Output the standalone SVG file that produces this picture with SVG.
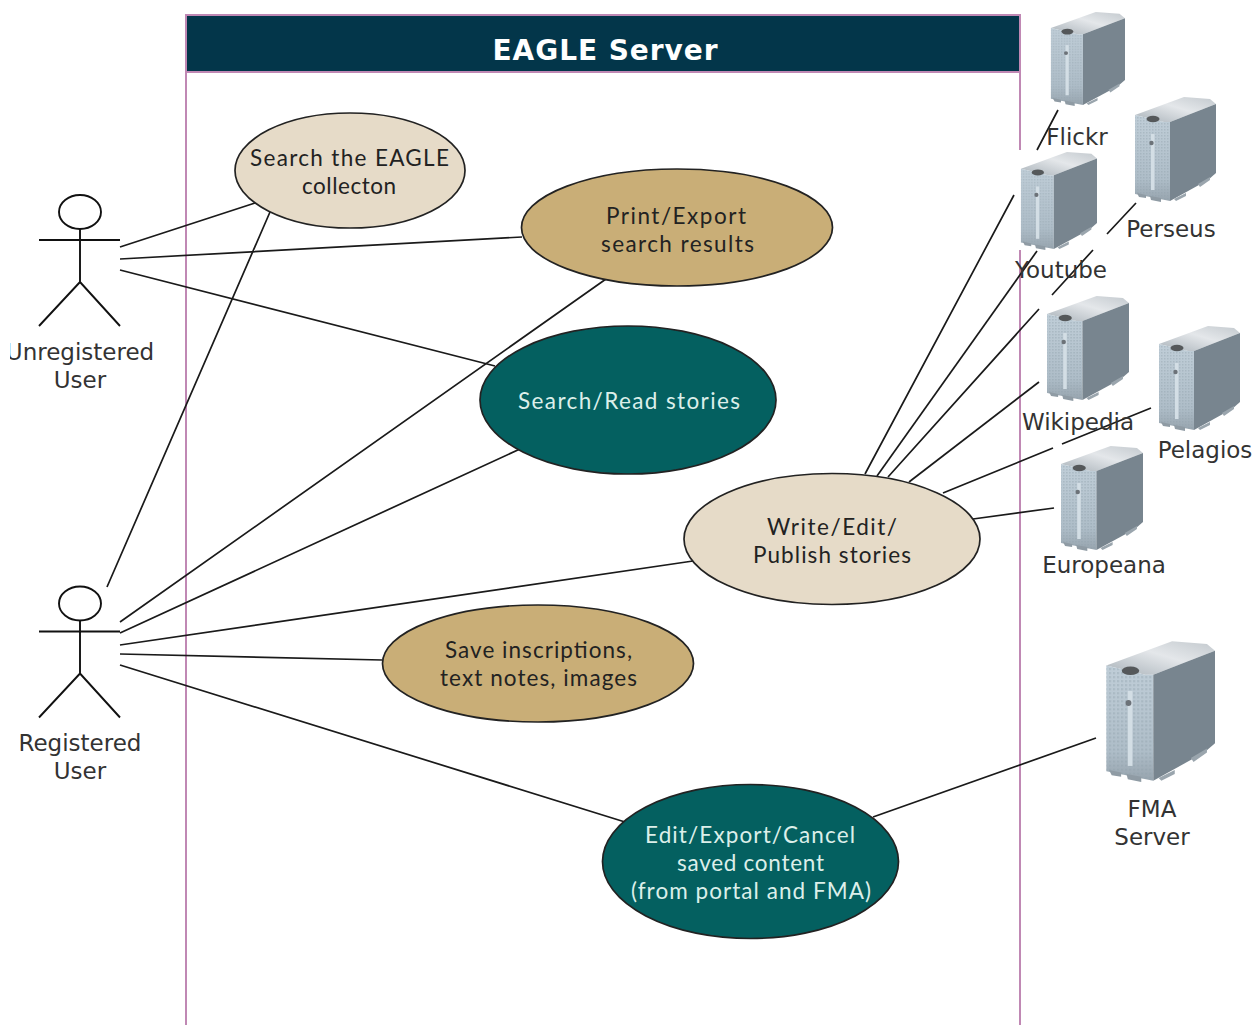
<svg xmlns="http://www.w3.org/2000/svg" width="1255" height="1025" viewBox="0 0 1255 1025">
<style>
.sans{font-family:"DejaVu Sans",sans-serif;font-size:23px;fill:#333;text-anchor:middle}
.hand{font-family:"Lato","Noto Sans",sans-serif;font-size:22.5px;fill:#222}
.lite{fill:#dcefea}
.uc{fill:none;stroke:#1a1a1a;stroke-width:1.7}
.ell{stroke:#222;stroke-width:1.7}
.actor{fill:#fff;stroke:#111;stroke-width:1.9}
.frame{fill:none;stroke:#c088b4;stroke-width:2}
</style>
<defs>
<linearGradient id="gTop" x1="0" y1="1" x2="1" y2="0"><stop offset="0" stop-color="#a9b2b9"/><stop offset=".55" stop-color="#e4e7ea"/><stop offset="1" stop-color="#c3c9ce"/></linearGradient>
<linearGradient id="gFront" x1="0" y1="0" x2="0" y2="1"><stop offset="0" stop-color="#c0ced8"/><stop offset=".75" stop-color="#aebdc8"/><stop offset="1" stop-color="#97a4ae"/></linearGradient>
<pattern id="grill" width="3" height="3" patternUnits="userSpaceOnUse"><rect width="1.5" height="1.5" fill="#8e9fab" opacity=".4"/></pattern>
<filter id="soft" x="-5%" y="-5%" width="110%" height="110%"><feGaussianBlur stdDeviation="0.45"/></filter>
<clipPath id="leftClip"><rect x="10" y="330" width="170" height="70"/></clipPath>
<symbol id="server" viewBox="0 0 82 106" preserveAspectRatio="none">
<g filter="url(#soft)">
<polygon points="1,19 50,1 76,3 82,8 36,26 30,26" fill="url(#gTop)"/>
<polygon points="1,19 30,26 36,26 36,105 1,98" fill="url(#gFront)"/>
<polygon points="1,19 30,26 36,26 36,105 1,98" fill="url(#grill)"/>
<polygon points="36,26 82,8 82,77 74,84 36,105" fill="#78858f"/>
<polygon points="3,97 12,99 12,102 5,101" fill="#8f9ba4"/>
<polygon points="16,100 27,102 27,106 17,104" fill="#8f9ba4"/>
<polygon points="40,103 52,97 52,100 42,105" fill="#9aa5ad"/>
<polygon points="64,88 76,81 76,84 66,91" fill="#9aa5ad"/>
<rect x="17" y="38" width="3.500" height="56" fill="#d3dee5"/>
<ellipse cx="19" cy="23" rx="6.500" ry="3.200" fill="#55585a"/>
<ellipse cx="17.500" cy="47" rx="2.200" ry="2.200" fill="#6c7278"/>
</g>
</symbol>
</defs>
<rect width="1255" height="1025" fill="#fff"/>

<g id="frame">
<rect x="186" y="15" width="834" height="57" fill="#03364a" stroke="#c088b4" stroke-width="2"/>
<path class="frame" d="M186 72V1025M1020 72V150M1020 250V1025"/>
<text x="605" y="60" font-family="DejaVu Sans,sans-serif" font-size="28" font-weight="700" fill="#fff" text-anchor="middle" textLength="225">EAGLE Server</text>
</g>

<g id="connectors" class="uc">
<path d="M120 247L255 203M120 259L522 237M120 270L495 366"/>
<path d="M107 587L270 212M120 622L606 279M120 633L520 449M120 645L693 561M120 654L382 660M120 665L625 822"/>
<path d="M865 474L1014 195M1037 150L1058 110"/>
<path d="M877 476L1037 251"/>
<path d="M888 477L1039 309M1052 295L1093 250M1107 234L1136 203"/>
<path d="M909 482L1039 382"/>
<path d="M943 493L1053 448M1062 444L1151 408"/>
<path d="M973 519L1054 508"/>
<path d="M873 817L1096 738"/>
</g>

<g id="actor-unregistered">
<ellipse class="actor" cx="80" cy="212" rx="21" ry="17"/>
<path class="actor" d="M80 229V282M39 240H120M39 326L80 282L120 326" style="fill:none"/>
<text class="sans" x="80" y="360" clip-path="url(#leftClip)">Unregistered</text>
<text class="sans" x="80" y="388">User</text>
</g>
<g id="actor-registered">
<ellipse class="actor" cx="80" cy="603.500" rx="21" ry="17"/>
<path class="actor" d="M80 620.500V673.500M39 631.500H120M39 717.500L80 673.500L120 717.500" style="fill:none"/>
<text class="sans" x="80" y="751">Registered</text>
<text class="sans" x="80" y="779">User</text>
</g>

<g id="uc-search">
<ellipse class="ell" cx="350" cy="170.500" rx="115" ry="57.500" fill="#e6dbc8"/>
<text class="hand" x="250" y="166" textLength="199">Search the EAGLE</text>
<text class="hand" x="302" y="194" textLength="94">collecton</text>
</g>
<g id="uc-print">
<ellipse class="ell" cx="677" cy="227.500" rx="155.500" ry="58.500" fill="#c9ae77"/>
<text class="hand" x="606" y="224" textLength="140">Print/Export</text>
<text class="hand" x="601" y="252" textLength="153">search results</text>
</g>
<g id="uc-read">
<ellipse class="ell" cx="628" cy="400" rx="148" ry="74" fill="#046060"/>
<text class="hand lite" x="518" y="409" textLength="222">Search/Read stories</text>
</g>
<g id="uc-write">
<ellipse class="ell" cx="832" cy="539" rx="148" ry="65.500" fill="#e6dbc8"/>
<text class="hand" x="767" y="535" textLength="130">Write/Edit/</text>
<text class="hand" x="753" y="563" textLength="158">Publish stories</text>
</g>
<g id="uc-save">
<ellipse class="ell" cx="538" cy="663.500" rx="155.500" ry="58.500" fill="#c9ae77"/>
<text class="hand" x="445" y="658" textLength="187">Save inscriptions,</text>
<text class="hand" x="440" y="686" textLength="197">text notes, images</text>
</g>
<g id="uc-edit">
<ellipse class="ell" cx="750.500" cy="861.500" rx="148" ry="77" fill="#046060"/>
<text class="hand lite" x="645" y="843" textLength="210">Edit/Export/Cancel</text>
<text class="hand lite" x="677" y="871" textLength="147">saved content</text>
<text class="hand lite" x="631" y="899" textLength="240">(from portal and FMA)</text>
</g>

<g id="server-flickr"><use href="#server" x="1050" y="11" width="75" height="95"/><text class="sans" x="1077" y="145">Flickr</text></g>
<g id="server-youtube"><use href="#server" x="1020" y="151" width="77" height="99"/><text class="sans" x="1061" y="278">Youtube</text></g>
<g id="server-perseus"><use href="#server" x="1134" y="96" width="82" height="106"/><text class="sans" x="1171" y="237">Perseus</text></g>
<g id="server-wikipedia"><use href="#server" x="1046" y="295" width="83" height="106"/><text class="sans" x="1078" y="430">Wikipedia</text></g>
<g id="server-pelagios"><use href="#server" x="1158" y="325" width="82" height="106"/><text class="sans" x="1205" y="458">Pelagios</text></g>
<g id="server-europeana"><use href="#server" x="1060" y="445" width="83" height="106"/><text class="sans" x="1104" y="573">Europeana</text></g>
<g id="server-fma"><use href="#server" x="1105" y="640" width="110" height="142"/><text class="sans" x="1152" y="817">FMA</text><text class="sans" x="1152" y="845">Server</text></g>
</svg>
